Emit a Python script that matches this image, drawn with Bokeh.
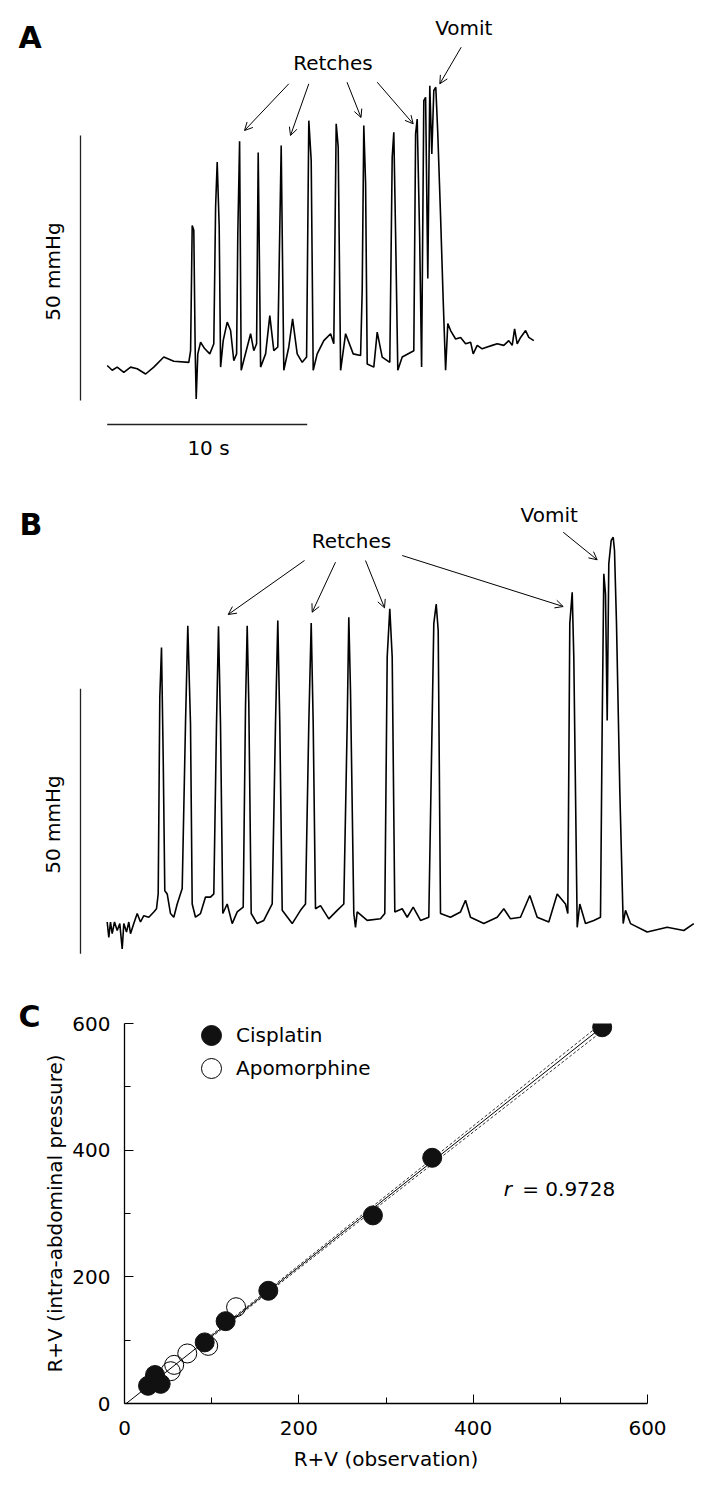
import numpy as np
from bokeh.plotting import figure
from bokeh.models import Range1d, Label, Arrow, OpenHead, Legend, LegendItem, FixedTicker, Title
from bokeh.embed import file_html
from bokeh.resources import INLINE

# ---------------- data ----------------
# Panel A: intra-abdominal pressure trace (time in s, pressure in mmHg, relative)
A_TIME = [0, 0.25, 0.5, 0.83, 1.17, 1.5, 1.92, 2.33, 2.83, 3.33, 4.08,
          4.17, 4.25, 4.33, 4.4, 4.45, 4.53, 4.67, 4.87, 5.13,
          5.33, 5.42, 5.5, 5.6, 5.67, 5.8, 6.0, 6.17, 6.33, 6.47,
          6.53, 6.62, 6.7, 7.0, 7.17, 7.33, 7.47,
          7.55, 7.67, 7.92, 8.13, 8.33, 8.53,
          8.7, 8.83, 9.08, 9.27, 9.5, 9.75, 9.97,
          10.08, 10.2, 10.3, 10.5, 10.83, 11.17, 11.33,
          11.45, 11.55, 11.67, 11.92, 12.3, 12.67,
          12.75, 12.83, 12.92, 13.0, 13.33, 13.5, 13.75, 14.13,
          14.25, 14.33, 14.42, 14.53, 14.75, 15.33,
          15.42, 15.5, 15.62, 15.72, 15.83, 15.92, 16.03, 16.13, 16.23, 16.33, 16.43, 16.53,
          16.67, 16.8, 16.92, 17.03, 17.17, 17.42, 17.67, 17.92, 18.17, 18.3, 18.5, 18.75,
          19.0, 19.25, 19.5, 19.83, 20.08, 20.25, 20.37, 20.5, 20.67, 20.92, 21.08, 21.33]
A_PRESSURE = [6.6, 5.7, 6.3, 5.3, 6.3, 6.0, 5.0, 6.3, 8.2, 7.4, 7.2,
              9.4, 33.0, 32.1, 9.4, 0.3, 8.8, 11.0, 9.8, 8.8,
              10.7, 36.5, 45.0, 32.7, 6.3, 11.3, 14.8, 13.2, 7.5, 8.8,
              31.4, 48.9, 5.7, 10.1, 12.6, 9.4, 10.7,
              46.8, 6.3, 8.8, 16.0, 9.4, 10.1,
              48.1, 5.7, 10.1, 15.4, 8.8, 7.2, 8.2,
              52.8, 45.3, 5.7, 8.8, 11.3, 12.6, 10.7,
              52.2, 47.8, 5.7, 12.6, 8.8, 8.5,
              20.8, 51.9, 40.9, 6.9, 6.3, 12.9, 8.2, 7.2,
              45.9, 50.6, 31.4, 5.7, 8.2, 9.4,
              50.3, 53.1, 31.4, 6.3, 56.6, 57.2, 23.0, 59.4, 46.5, 58.5, 59.1, 50.3,
              34.6, 18.9, 5.7, 14.5, 13.2, 11.6, 11.9, 10.7, 11.0, 8.8, 10.4, 9.75,
              10.1, 10.4, 10.7, 10.4, 11.3, 10.4, 13.5, 10.7, 11.9, 13.2, 11.9, 11.3]

# Panel B: intra-abdominal pressure trace
B_TIME = [0.0, 0.08, 0.165, 0.25, 0.365, 0.5, 0.63, 0.75, 0.83, 0.965, 1.08, 1.165, 1.33, 1.5,
          1.665, 1.83, 2.08, 2.33, 2.465, 2.55,
          2.63, 2.715, 2.8, 2.88, 3.0, 3.165, 3.33, 3.5, 3.75,
          3.915, 4.03, 4.165, 4.25, 4.415, 4.665, 4.915, 5.165, 5.33,
          5.465, 5.565, 5.665, 5.78, 6.0, 6.25, 6.5, 6.8,
          6.915, 7.0, 7.08, 7.2, 7.5, 7.83, 8.25,
          8.415, 8.53, 8.63, 8.75, 9.25, 9.665, 9.915,
          10.08, 10.2, 10.3, 10.415, 10.665, 11.08, 11.5, 11.83,
          12.0, 12.08, 12.165, 12.33, 12.415, 12.5, 13.0, 13.665, 13.88,
          14.0, 14.13, 14.25, 14.38, 14.75, 15.0, 15.3, 15.665, 16.08,
          16.33, 16.45, 16.55, 16.665, 17.165, 17.665, 17.915, 18.165, 18.83, 19.5, 19.83,
          20.165, 20.665, 21.13, 21.5, 22.08, 22.5, 22.915, 23.03,
          23.13, 23.25, 23.33, 23.5, 23.63, 23.915, 24.33, 24.665,
          24.75, 24.83, 24.915, 25.0, 25.08, 25.2, 25.3, 25.365, 25.465, 25.63, 25.8,
          25.915, 26.165, 27.0, 28.0, 28.83, 29.33]
B_PRESSURE = [6.0, 3.1, 6.0, 3.8, 6.0, 4.4, 5.7, 0.9, 5.7, 4.1, 6.0, 3.8, 5.7, 7.6,
              6.0, 7.2, 6.9, 7.9, 8.5, 11.3,
              48.4, 57.8, 37.1, 11.9, 11.3, 7.6, 6.9, 9.4, 12.3,
              43.4, 61.9, 43.4, 9.4, 6.9, 7.6, 10.7, 10.7, 11.3,
              43.4, 61.8, 43.4, 7.6, 9.4, 5.7, 7.9, 8.8,
              46.5, 61.9, 47.2, 7.6, 5.7, 6.3, 9.4,
              43.4, 62.9, 43.4, 8.2, 5.7, 8.2, 9.4,
              43.4, 62.4, 43.4, 8.5, 9.1, 6.6, 8.2, 9.4,
              43.4, 63.5, 49.7, 7.6, 5.0, 7.9, 6.3, 6.6, 7.6,
              56.0, 65.1, 56.0, 7.9, 8.5, 6.9, 8.8, 6.3, 6.9,
              62.3, 66.0, 61.0, 7.6, 6.9, 7.9, 10.1, 6.9, 5.7, 6.9, 8.5,
              6.6, 6.9, 11.0, 6.9, 6.0, 11.3, 9.4, 7.6,
              62.3, 68.2, 56.0, 5.0, 9.4, 5.7, 6.3, 6.9,
              43.4, 71.7, 67.9, 44.0, 73.6, 78.0, 78.6, 76.1, 62.3, 30.8, 5.7,
              8.2, 5.7, 4.1, 5.0, 4.4, 5.7]

SCALE_PRESSURE = 50   # mmHg
SCALE_TIME = 10       # s

# Panel C: R+V counts
CIS_OBS = [27, 35, 41.5, 92, 116, 165, 285, 353, 548]
CIS_IAP = [28, 45, 31, 96.5, 130, 178, 297, 388, 594]
APO_OBS = [53, 57, 72, 96, 128]
APO_IAP = [51, 61, 79, 91, 152]
BAND_OBS = [95, 165, 353, 548]
BAND_HALF = [1.8, 2.2, 4.2, 6.5]
R_VALUE = "0.9728"
AXIS_TICKS = [0, 200, 400, 600]
MINOR_TICKS = [100, 300, 500]

# ---------------- layout helpers ----------------
FONT = "DejaVu Sans"
FS = "20px"
PAGE_W = 709
PX_PER_S = 20.0
PX_PER_MMHG = 5.3
TXT_SHIFT = 8   # label placement correction (px)


def trace_fig(top, height, x0, y0):
    xr = Range1d((0 - x0) / PX_PER_S, (PAGE_W - x0) / PX_PER_S)
    yr = Range1d((y0 - (top + height)) / PX_PER_MMHG, (y0 - top) / PX_PER_MMHG)
    p = figure(width=PAGE_W, height=height, x_range=xr, y_range=yr,
               output_backend="svg", toolbar_location=None,
               x_axis_location=None, y_axis_location=None,
               min_border=0, min_border_left=0, min_border_right=0,
               min_border_top=0, min_border_bottom=0)
    p.outline_line_color = None
    p.grid.visible = False
    fx = lambda px: (px - x0) / PX_PER_S
    fy = lambda py: (y0 - py) / PX_PER_MMHG
    return p, fx, fy


def add_text(p, fx, fy, px, py, text, size=FS, style="normal", align="center", rotated=False):
    if rotated:
        x, y, angle = fx(px - TXT_SHIFT), fy(py), np.pi / 2
    else:
        x, y, angle = fx(px), fy(py - TXT_SHIFT), 0.0
    p.add_layout(Label(x=x, y=y, text=text, text_font=FONT, text_font_size=size,
                       text_font_style=style, text_align=align,
                       text_baseline="alphabetic", text_color="black", angle=angle))


def add_arrow(p, fx, fy, a, b):
    p.add_layout(Arrow(x_start=fx(a[0]), y_start=fy(a[1]), x_end=fx(b[0]), y_end=fy(b[1]),
                       line_width=1, line_color="black",
                       end=OpenHead(size=8, line_width=1, line_color="black")))


# ---------------- Panel A ----------------
A_TOP, A_H = 0, 470
pA, ax_, ay_ = trace_fig(A_TOP, A_H, 106.7, 400.0)
pA.line(A_TIME, A_PRESSURE, line_color="black", line_width=1.6)
pA.segment(x0=[ax_(80)], y0=[0], x1=[ax_(80)], y1=[SCALE_PRESSURE], line_color="#222222", line_width=1.3)
pA.segment(x0=[0], y0=[ay_(424)], x1=[SCALE_TIME], y1=[ay_(424)], line_color="#222222", line_width=1.3)
add_text(pA, ax_, ay_, 18, 45, "A", size="30px", style="bold", align="left")
add_text(pA, ax_, ay_, 332.5, 70, "Retches")
add_text(pA, ax_, ay_, 463.3, 35, "Vomit")
add_text(pA, ax_, ay_, 208, 455, "10 s")
add_text(pA, ax_, ay_, 60, 271, "50 mmHg", rotated=True)
for a, b in [((288.3, 83.3), (244, 130)), ((308.3, 83.3), (290, 135)),
             ((346.5, 81.7), (360.5, 117)), ((376.7, 81.7), (412.7, 123.3)),
             ((460.7, 46.7), (439.3, 83.3))]:
    add_arrow(pA, ax_, ay_, a, b)

# ---------------- Panel B ----------------
B_TOP, B_H = 470, 495
pB, bx_, by_ = trace_fig(B_TOP, B_H, 106.7, 953.3)
pB.line(B_TIME, B_PRESSURE, line_color="black", line_width=1.6)
pB.segment(x0=[bx_(80)], y0=[0], x1=[bx_(80)], y1=[SCALE_PRESSURE], line_color="#222222", line_width=1.3)
add_text(pB, bx_, by_, 19, 532, "B", size="30px", style="bold", align="left")
add_text(pB, bx_, by_, 351, 548.8, "Retches")
add_text(pB, bx_, by_, 548.7, 522.3, "Vomit")
add_text(pB, bx_, by_, 60, 824, "50 mmHg", rotated=True)
for a, b in [((304, 560), (227.7, 614)), ((335, 561.7), (311.7, 611.7)),
             ((365, 560), (384, 607.3)), ((401.7, 555), (562.7, 606)),
             ((562.7, 531.7), (596.7, 559.3))]:
    add_arrow(pB, bx_, by_, a, b)

# ---------------- Panel C ----------------
C_TOP, C_H = 965, 521
MB_L, MB_R, MB_T, MB_B = 124, 62, 58, 83
pC = figure(width=PAGE_W, height=C_H, x_range=Range1d(0, 600), y_range=Range1d(0, 600),
            output_backend="svg", toolbar_location=None,
            min_border_left=MB_L, min_border_right=MB_R, min_border_top=MB_T, min_border_bottom=MB_B)
pC.outline_line_color = None
pC.grid.visible = False
pC.title = Title(text="C", align="left", offset=18 - MB_L, standoff=-21,
                 text_font=FONT, text_font_size="30px", text_font_style="bold",
                 text_color="black")
FR_L = MB_L
FR_B = C_TOP + C_H - MB_B
FR_W = PAGE_W - MB_L - MB_R
FR_H = C_H - MB_T - MB_B
cx_ = lambda px: (px - FR_L) / FR_W * 600
cy_ = lambda py: (FR_B - py) / FR_H * 600

for ax in (pC.xaxis[0], pC.yaxis[0]):
    ax.ticker = FixedTicker(ticks=AXIS_TICKS, minor_ticks=MINOR_TICKS)
    ax.major_tick_in = 9
    ax.major_tick_out = 0
    ax.minor_tick_in = 6
    ax.minor_tick_out = 0
    ax.axis_line_color = "black"
    ax.axis_line_width = 1.3
    ax.major_tick_line_color = "black"
    ax.minor_tick_line_color = "black"
    ax.major_label_text_font = FONT
    ax.major_label_text_font_size = FS
    ax.major_label_text_color = "black"
    ax.axis_label_text_font = FONT
    ax.axis_label_text_font_size = FS
    ax.axis_label_text_font_style = "normal"
    ax.axis_label_text_color = "black"
pC.xaxis.axis_label = "R+V (observation)"
pC.yaxis.axis_label = "R+V (intra-abdominal pressure)"
pC.xaxis.major_label_standoff = 17
pC.yaxis.major_label_standoff = 14
pC.xaxis.axis_label_standoff = 9
pC.yaxis.axis_label_standoff = 2

# regression line through all points
all_x = np.array(CIS_OBS + APO_OBS, dtype=float)
all_y = np.array(CIS_IAP + APO_IAP, dtype=float)
slope, intercept = np.polyfit(all_x, all_y, 1)
fit_x = np.array([0.0, all_x.max()])
pC.line(fit_x, slope * fit_x + intercept, line_color="black", line_width=1)
bx = np.array(BAND_OBS, dtype=float)
bh = np.array(BAND_HALF, dtype=float)
pC.line(bx, slope * bx + intercept + bh, line_color="#333333", line_width=1, line_dash="3 2")
pC.line(bx, slope * bx + intercept - bh, line_color="#333333", line_width=1, line_dash="3 2")

r_apo = pC.scatter(APO_OBS, APO_IAP, size=19, marker="circle", fill_color=None,
                   line_color="black", line_width=1)
r_cis = pC.scatter(CIS_OBS, CIS_IAP, size=19, marker="circle", fill_color="#111111",
                   line_color="#111111", line_width=1)


def add_legend(label, renderer, center_py):
    vy = (FR_B - center_py) - 25
    lg = Legend(items=[LegendItem(label=label, renderers=[renderer])],
                location=(211 - FR_L - 25, vy), glyph_width=50, glyph_height=50,
                label_standoff=-12, spacing=0, padding=0, margin=0,
                border_line_color=None, background_fill_alpha=0,
                label_text_font=FONT, label_text_font_size=FS,
                label_text_color="black", label_height=20)
    pC.add_layout(lg)


add_legend("Cisplatin", r_cis, 1035)
add_legend("Apomorphine", r_apo, 1068.3)

add_text(pC, cx_, cy_, 503.3, 1196, "r", style="italic", align="left")
add_text(pC, cx_, cy_, 521.7, 1196, "= " + R_VALUE, align="left")

open("out.html", "w").write(file_html([pA, pB, pC], INLINE))
